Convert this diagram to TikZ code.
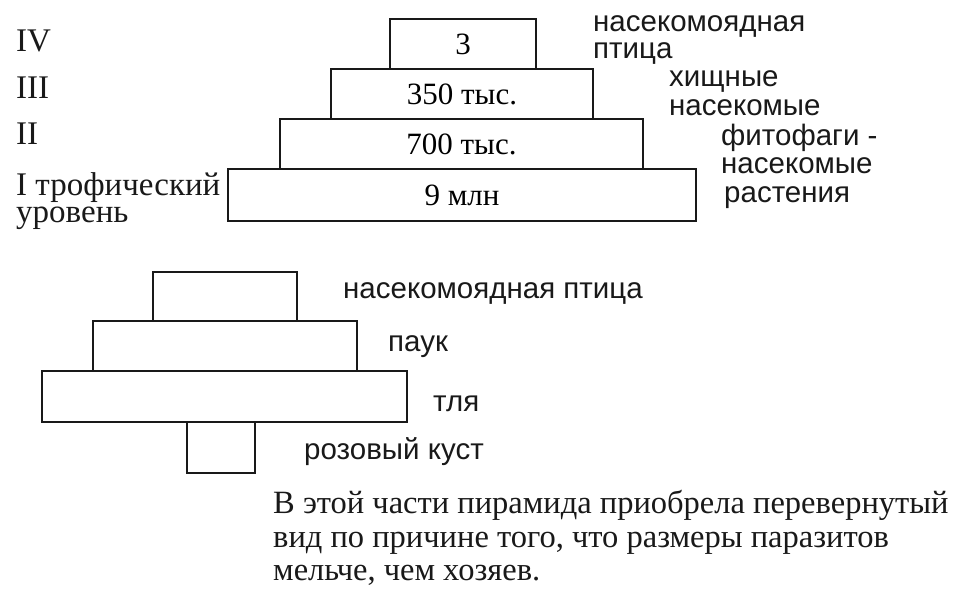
\documentclass[tikz,border=0pt]{standalone}
\usepackage{fontspec}
\setmainfont{Liberation Serif}
\newfontfamily\labsans{Liberation Sans}
\begin{document}
\begin{tikzpicture}[x=1pt,y=-1pt,
  box/.style={draw=black!90, line width=2.9pt, inner sep=0pt, font=\fontsize{31}{31}\selectfont},
  lvl/.style={anchor=base west, inner sep=0pt, font=\fontsize{33}{27}\selectfont, text=black!90},
  lab/.style={anchor=base west, inner sep=0pt, font=\labsans\fontsize{29.5}{29.5}\selectfont, text=black!90},
  para/.style={anchor=base west, inner sep=0pt, font=\fontsize{32.5}{32.5}\selectfont, text=black!90}]
\useasboundingbox[fill=white] (0,0) rectangle (972,610);
% top pyramid
\node[box, minimum width=146, minimum height=50] (b4) at (463,44) {3};
\node[box, minimum width=262, minimum height=50] (b3) at (462,94) {350 тыс.};
\node[box, minimum width=363, minimum height=50] (b2) at (461.5,144) {700 тыс.};
\node[box, minimum width=468, minimum height=52] (b1) at (462,195) {9 млн};
% level labels
\node[lvl] (l4) at (16,52) {IV};
\node[lvl] (l3) at (16,99) {III};
\node[lvl] (l2) at (16,144) {II};
\node[lvl, align=left] (l1) at (16,222) {I трофический\\уровень};
% right labels
\node[lab] (t1) at (593,32) {насекомоядная};
\node[lab] (t2) at (593,59) {птица};
\node[lab] (t3) at (669,87) {хищные};
\node[lab] (t4) at (669,115) {насекомые};
\node[lab] (t5) at (721,145) {фитофаги -};
\node[lab] (t6) at (721,173) {насекомые};
\node[lab] (t7) at (724,202) {растения};
% lower pyramid
\node[box, minimum width=144, minimum height=49] (c1) at (225,296.5) {};
\node[box, minimum width=264, minimum height=50] (c2) at (225,346) {};
\node[box, minimum width=365, minimum height=51] (c3) at (224.5,396.5) {};
\node[box, minimum width=68, minimum height=51] (c4) at (221,447.5) {};
\node[lab] (u1) at (343,298) {насекомоядная птица};
\node[lab] (u2) at (388,351) {паук};
\node[lab] (u3) at (433,411) {тля};
\node[lab] (u4) at (304,459) {розовый куст};
% paragraph
\node[para] (p1) at (273,513) {В этой части пирамида приобрела перевернутый};
\node[para] (p2) at (273,547) {вид по причине того, что размеры паразитов};
\node[para] (p3) at (273,580) {мельче, чем хозяев.};
\end{tikzpicture}
\end{document}
